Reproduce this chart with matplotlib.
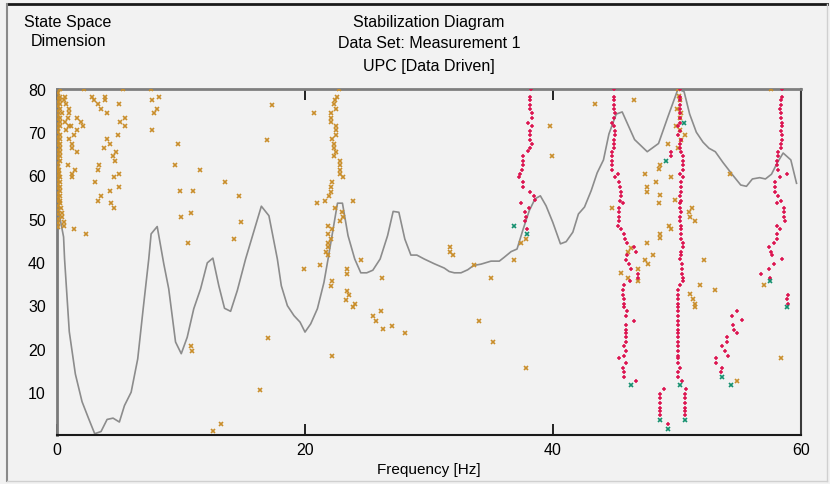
import matplotlib as mpl
mpl.use('Agg')
import matplotlib.pyplot as plt
from matplotlib.lines import Line2D

NARROW = ['Liberation Sans Narrow', 'Liberation Sans', 'DejaVu Sans']
REGULAR = ['Liberation Sans', 'DejaVu Sans']
mpl.rcParams['font.family'] = REGULAR

# spectrum curve (frequency [Hz], scaled level)
spec_freq = [0.05, 0.53, 0.61, 0.99, 1.48, 2.02, 2.55, 3.04, 3.55, 4.04, 4.52, 5.03,
             5.44, 5.98, 6.51, 6.95, 7.40, 7.59, 8.08, 8.61, 9.01, 9.56, 10.02, 10.50,
             11.03, 11.58, 12.12, 12.57, 13.05, 13.51, 14.0, 14.54, 15.21, 16.48, 17.09,
             17.77, 18.09, 18.58, 19.11, 19.60, 20.0, 20.46, 21.0, 21.53, 21.86, 22.62,
             23.02, 23.47, 24.01, 24.5, 24.98, 25.47, 26.06, 26.66, 27.11, 27.57, 28.05,
             28.54, 29.02, 29.61, 30.42, 31.23, 31.63, 32.04, 32.58, 33.12, 33.6, 34.19,
             35.0, 35.67, 36.07, 36.62, 37.1, 37.56, 38.09, 38.55, 38.98, 39.44, 39.98,
             40.6, 41.06, 41.6, 42.05, 42.54, 43.08, 43.56, 44.07, 44.51, 45.1, 45.58,
             46.58, 47.6, 48.51, 49.27, 50.08, 50.57, 51.02, 51.56, 52.1, 52.58, 53.09,
             53.71, 54.52, 55.14, 55.6, 56.08, 56.67, 57.13, 57.62, 58.1, 58.56, 59.18,
             59.64]
spec_level = [53.0, 45.8, 40.7, 23.9, 14.1, 7.7, 3.8, 0.3, 0.8, 3.6, 3.9, 3.0,
              6.8, 9.9, 17.6, 29.2, 40.7, 46.5, 48.2, 39.6, 33.8, 21.5, 18.8, 22.6,
              29.2, 33.8, 39.8, 40.9, 34.5, 29.3, 28.6, 33.4, 40.7, 52.9, 50.7,
              40.7, 34.5, 29.9, 27.6, 26.1, 23.8, 25.7, 29.2, 35.3, 40.7, 53.6,
              53.6, 46.1, 40.7, 37.5, 37.5, 38.1, 40.7, 46.1, 51.7, 51.5, 45.3,
              41.6, 41.6, 40.7, 39.6, 38.6, 37.8, 37.5, 37.5, 38.2, 39.2, 39.5,
              40.2, 40.2, 41.1, 42.4, 43.0, 47.3, 51.9, 54.6, 55.3, 53.0, 49.2,
              44.2, 44.7, 46.9, 51.1, 52.7, 56.5, 60.6, 63.6, 69.6, 74.2, 74.7,
              68.3, 65.5, 67.4, 73.6, 80.0, 79.4, 74.2, 70.0, 67.7, 66.3, 65.5,
              63.0, 60.0, 57.8, 57.5, 59.2, 59.5, 59.2, 60.3, 63.0, 65.2, 63.6,
              58.2]

# unstable poles (frequency, state space dimension)
unstable_left = [(0.1, o) for o in range(48, 80)] + [
    (0.27, 80), (0.27, 78.2), (0.67, 78.2), (0.27, 77.5), (0.59, 77.5), (0.21, 76.5),
    (0.75, 76.5), (0.27, 75.4), (0.99, 75.4), (0.4, 74.4), (0.99, 74.4), (0.21, 73.4),
    (0.89, 73.4), (0.21, 72.3), (0.67, 72.3), (0.21, 71.5), (0.94, 71.5), (1.13, 71.5),
    (0.75, 70.5), (0.21, 69.4), (0.21, 68.4), (0.99, 68.4), (0.21, 67.3), (1.21, 67.3),
    (0.21, 66.3), (1.21, 66.3), (0.21, 65.5), (1.61, 65.5), (0.21, 64.4), (0.21, 63.4),
    (0.89, 62.4), (0.13, 61.3), (1.48, 61.3), (0.13, 60.3), (1.21, 60.3), (0.21, 59.6),
    (1.21, 59.6), (0.21, 58.5), (0.21, 57.4), (0.27, 56.4), (0.27, 55.3), (0.27, 54.2),
    (0.27, 53.6), (0.32, 52.5), (0.4, 51.4), (0.4, 50.3), (0.54, 49.3), (0.54, 48.3),
    (1.34, 47.6), (2.34, 46.5)]
unstable_low = [
    (2.15, 80), (5.33, 80), (7.59, 80), (2.83, 78.2), (3.9, 78.2), (8.21, 78.2),
    (2.96, 77.5), (3.9, 77.5), (7.67, 77.5), (3.31, 76.5), (5.03, 76.5), (3.55, 75.4),
    (8.08, 75.4), (4.04, 74.4), (7.81, 74.4), (1.61, 73.4), (5.52, 73.4), (1.96, 72.3),
    (5.11, 72.3), (2.1, 71.5), (5.52, 71.5), (1.61, 70.5), (7.67, 70.5), (1.34, 69.4),
    (4.9, 69.4), (4.04, 68.4), (4.25, 67.3), (9.77, 67.3), (3.77, 66.3), (4.76, 65.5),
    (4.52, 64.4), (4.66, 63.4), (3.42, 62.4), (9.5, 62.4), (3.31, 61.3), (11.5, 61.3),
    (5.03, 60.3), (4.63, 59.6), (3.09, 58.5), (13.54, 58.5), (5.03, 57.4), (4.31, 56.4),
    (9.88, 56.4), (10.98, 56.4), (3.55, 55.3), (14.67, 55.3), (3.31, 54.2), (4.39, 53.6),
    (4.58, 52.5), (10.77, 51.4), (10.01, 50.3), (14.86, 49.3), (14.27, 45.3),
    (10.58, 44.4), (10.77, 20.5), (10.85, 19.4), (12.57, 1.0), (13.19, 2.5),
    (16.34, 10.5), (16.99, 22.5), (19.9, 38.4), (21.24, 39.4), (22.08, 34.5),
    (22.21, 35.6), (22.21, 18.3), (17.31, 76.4), (20.73, 74.4), (16.96, 68.3)]
unstable_22hz = [
    (22.75, 80), (22.56, 78.2), (22.43, 77.5), (22.35, 76.5), (22.46, 75.4), (22.08, 74.4),
    (22.08, 73.4), (22.08, 72.3), (22.46, 71.5), (22.46, 70.5), (22.46, 69.4), (22.21, 68.4),
    (22.35, 67.3), (22.35, 66.3), (22.46, 65.5), (22.35, 64.6), (22.81, 63.4), (22.81, 62.4),
    (22.81, 61.3), (22.81, 60.3), (23.05, 59.6), (22.21, 58.5), (22.08, 57.4), (22.08, 56.3),
    (21.95, 55.3), (21.6, 54.2), (21.0, 53.6), (23.91, 54.2), (22.43, 52.5), (23.02, 51.5),
    (23.05, 50.4), (22.81, 49.4), (21.86, 48.3), (22.21, 47.6), (21.86, 46.5), (22.08, 45.4),
    (21.86, 44.3), (21.86, 43.4), (21.73, 42.2), (21.86, 41.6), (24.5, 40.5), (23.42, 38.4),
    (23.42, 37.3), (26.2, 36.3), (23.42, 33.4), (23.56, 32.4), (23.29, 31.3), (24.02, 30.4),
    (23.91, 29.6), (25.5, 27.5), (26.12, 28.6), (25.74, 26.4), (26.33, 24.4), (26.98, 25.3),
    (28.06, 23.6)]
unstable_high = [
    (33.66, 39.4), (35.0, 36.3), (34.03, 26.4), (35.14, 21.6), (37.83, 15.5), (36.83, 40.5),
    (31.69, 43.4), (31.69, 42.4), (31.96, 41.6), (37.8, 45.4), (37.45, 44.4), (39.77, 71.5),
    (39.9, 64.5), (43.4, 76.5), (44.75, 52.5), (46.57, 77.5), (50.1, 80), (50.13, 78.4),
    (50.21, 77.5), (50.0, 75.4), (50.34, 74.4), (50.21, 73.3), (49.9, 71.5), (50.21, 70.5),
    (50.61, 69.4), (50.34, 68.3), (50.07, 66.3), (49.27, 67.3), (48.65, 62.4), (48.51, 61.4),
    (47.44, 60.3), (48.27, 58.6), (47.57, 57.4), (47.57, 56.3), (49.51, 59.6), (48.65, 55.4),
    (48.51, 53.6), (49.86, 54.3), (51.2, 52.5), (50.96, 51.5), (51.07, 50.4), (51.45, 49.4),
    (49.35, 48.4), (49.51, 47.7), (48.65, 46.5), (48.65, 45.5), (47.57, 44.4), (46.33, 43.3),
    (46.06, 42.3), (47.41, 40.5), (47.68, 39.5), (48.03, 41.6), (46.82, 38.4), (45.5, 37.4),
    (46.06, 36.4), (46.82, 35.6), (52.17, 40.5), (51.82, 34.6), (51.07, 32.5), (51.31, 31.4),
    (51.45, 30.4), (51.45, 29.6), (53.04, 33.5), (57.6, 80), (54.25, 60.4), (57.05, 34.6),
    (58.4, 17.7), (54.84, 12.4)]

# stable poles
stable_38hz = [
    (38.23, 80), (38.18, 78.2), (38.18, 77.5), (38.18, 76.4), (38.18, 75.4), (38.29, 74.4),
    (38.29, 73.3), (37.96, 72.2), (38.29, 71.5), (38.18, 70.4), (38.18, 69.4), (38.18, 68.3),
    (38.29, 67.3), (38.18, 66.3), (37.96, 65.6), (37.56, 64.5), (37.56, 63.4), (37.56, 62.4),
    (37.5, 61.3), (37.34, 60.3), (37.24, 59.6), (37.56, 58.5), (37.56, 57.4), (38.18, 56.3),
    (38.5, 55.3), (38.55, 54.3), (37.42, 53.6), (38.04, 52.5), (37.77, 51.5), (37.83, 50.4),
    (37.72, 49.4), (37.94, 47.6)]
stable_45hz = [
    (44.9, 80), (44.9, 78.2), (44.9, 77.5), (44.9, 76.4), (44.9, 75.4), (45.0, 74.4),
    (44.9, 73.3), (44.77, 72.2), (44.9, 71.5), (45.0, 70.4), (45.0, 69.4), (44.9, 68.3),
    (44.9, 67.3), (44.9, 66.3), (44.77, 65.5), (44.77, 64.5), (44.77, 63.4), (44.77, 62.4),
    (44.77, 61.3), (45.23, 60.3), (45.0, 59.6), (45.36, 58.5), (45.44, 57.4), (45.5, 56.3),
    (45.5, 55.3), (45.44, 54.2), (45.63, 53.6), (45.36, 52.5), (45.36, 51.5), (45.36, 50.4),
    (45.36, 49.4), (45.23, 48.3), (45.5, 47.6), (45.71, 46.5), (45.82, 45.4), (45.98, 44.4),
    (46.57, 43.4), (46.71, 42.2), (45.98, 41.6), (45.85, 40.5), (46.12, 39.5), (46.3, 38.4),
    (46.84, 37.3), (46.84, 36.3), (46.22, 35.6), (45.71, 34.6), (45.63, 33.5), (45.63, 32.4),
    (45.71, 31.4), (45.71, 30.4), (45.71, 29.6), (45.98, 28.6), (45.85, 27.5), (46.57, 26.4),
    (45.85, 25.4), (45.85, 24.3), (45.85, 23.6), (45.85, 22.6), (45.85, 21.5), (45.71, 20.5),
    (45.85, 19.4), (45.71, 18.3), (45.36, 17.7), (45.85, 16.6), (45.63, 15.5), (45.71, 14.5),
    (45.71, 13.4), (46.71, 12.4)]
stable_50hz = [
    (50.21, 80), (50.21, 78.2), (50.21, 77.5), (50.21, 76.4), (50.21, 75.4), (50.21, 74.4),
    (50.21, 73.3), (50.21, 72.2), (50.1, 71.5), (50.21, 70.4), (50.1, 69.4), (50.34, 68.3),
    (50.21, 67.3), (50.21, 66.3), (50.34, 65.5), (50.45, 64.5), (50.45, 63.4), (50.45, 62.4),
    (50.45, 61.3), (50.21, 60.3), (50.45, 59.6), (50.34, 58.5), (50.34, 57.4), (50.34, 56.3),
    (50.21, 55.3), (50.34, 54.2), (50.21, 53.6), (50.21, 52.5), (50.34, 51.5), (50.21, 50.4),
    (50.21, 49.4), (50.34, 48.3), (50.34, 47.6), (50.34, 46.5), (50.34, 45.4), (50.45, 44.4),
    (50.45, 43.4), (50.34, 42.2), (50.34, 41.6), (50.21, 40.6), (50.37, 39.5), (50.37, 38.4),
    (50.37, 37.3), (50.48, 36.3), (50.48, 35.6), (50.21, 34.6), (50.1, 33.5), (50.1, 32.4),
    (50.1, 31.4), (50.1, 30.4), (50.1, 29.6), (50.1, 28.6), (50.1, 27.5), (50.1, 26.4),
    (50.1, 25.4), (50.1, 24.3), (50.1, 23.6), (50.1, 22.6), (50.1, 21.5), (50.1, 20.5),
    (50.1, 19.4), (50.1, 18.3), (50.1, 17.7), (50.1, 16.6), (50.24, 15.5), (50.1, 14.5),
    (50.1, 13.4), (50.37, 12.4), (50.72, 10.6), (50.61, 9.5), (50.61, 8.5), (50.61, 7.4),
    (50.61, 6.3), (50.61, 5.6), (50.61, 4.6)]
stable_49hz = [
    (48.99, 10.6), (48.65, 9.5), (48.65, 8.5), (48.65, 7.4), (48.65, 6.3), (48.65, 5.6),
    (48.65, 4.6), (49.27, 2.5), (49.48, 65.5), (49.48, 64.5)]
stable_54hz = [
    (54.84, 28.6), (54.46, 27.5), (55.22, 26.5), (54.49, 25.4), (54.6, 24.3), (54.84, 23.6),
    (54.0, 22.6), (54.0, 21.5), (53.63, 20.5), (53.87, 19.4), (54.11, 18.3), (53.14, 17.7),
    (53.14, 16.6), (53.63, 15.5), (53.52, 14.5)]
stable_58hz = [
    (58.48, 80), (58.48, 78.2), (58.37, 77.5), (58.37, 76.4), (58.29, 75.4), (58.37, 74.4),
    (58.37, 73.3), (58.48, 72.2), (58.48, 71.5), (58.37, 70.4), (58.48, 69.4), (58.48, 68.3),
    (58.37, 67.3), (58.37, 66.3), (58.15, 65.5), (58.15, 64.5), (58.04, 63.4), (58.04, 62.4),
    (58.15, 61.3), (58.88, 60.3), (58.29, 59.6), (57.88, 58.5), (57.88, 57.4), (57.88, 56.3),
    (58.15, 55.3), (58.37, 54.2), (58.04, 53.6), (58.61, 52.5), (58.61, 51.5), (58.61, 50.4),
    (58.74, 49.4), (58.04, 48.3), (58.29, 47.6), (58.04, 46.5), (58.04, 45.4), (57.8, 44.4),
    (57.43, 43.4), (57.56, 42.2), (57.67, 41.6), (58.5, 40.6), (57.8, 39.5), (57.4, 38.4),
    (56.8, 37.3), (57.53, 36.3), (58.99, 32.4), (58.88, 31.4), (58.99, 30.4)]

# poles stable in frequency only
stable_freq = [
    (36.83, 48.3), (37.91, 46.5), (50.59, 72.2), (49.13, 63.4), (46.3, 11.6), (50.24, 11.6),
    (48.65, 3.5), (49.27, 1.5), (50.61, 3.5), (53.63, 13.4), (54.38, 11.6), (57.53, 35.6),
    (58.88, 29.6)]

unstable = unstable_left + unstable_low + unstable_22hz + unstable_high
stable = stable_38hz + stable_45hz + stable_50hz + stable_49hz + stable_54hz + stable_58hz

x_ticks = [0, 20, 40, 60]
y_ticks = [10, 20, 30, 40, 50, 60, 70, 80]

BG = '#F2F2F2'
fig = plt.figure(figsize=(8.3, 4.85), dpi=100, facecolor=BG)
ax = fig.add_axes([57 / 830, 49 / 485, 744 / 830, 346 / 485])
ax.set_facecolor(BG)

ax.plot(spec_freq, spec_level, color='#8C8C8C', lw=1.2, zorder=2)
ax.plot([p[0] for p in unstable], [p[1] for p in unstable], ls='none', marker='x',
        ms=3.2, mew=1.2, color='#C98E2B', zorder=3)
ax.plot([p[0] for p in stable], [p[1] for p in stable], ls='none', marker='+',
        ms=3.3, mew=1.1, color='#DC1450', zorder=4)
ax.plot([p[0] for p in stable_freq], [p[1] for p in stable_freq], ls='none', marker='x',
        ms=3.2, mew=1.2, color='#14906E', zorder=5)

ax.set_xlim(0, 60)
ax.set_ylim(0, 80)
ax.set_xticks(x_ticks)
ax.set_yticks(y_ticks)
ax.tick_params(axis='x', direction='in', length=8, width=1.2, top=True, pad=5,
               labelsize=11.5, color='black')
ax.tick_params(axis='y', length=0, pad=8, labelsize=11.5)
ax.set_xlabel('Frequency [Hz]', fontsize=11, labelpad=4)

ax.spines['left'].set_color('#7A7A7A')
ax.spines['left'].set_linewidth(2)
ax.spines['top'].set_color('#7F7F7F')
ax.spines['top'].set_linewidth(2)
ax.spines['bottom'].set_color('#1A1A1A')
ax.spines['bottom'].set_linewidth(1.5)
ax.spines['right'].set_color('#3A3A3A')
ax.spines['right'].set_linewidth(1.5)

fig.text(68 / 830, 1 - 22 / 485, 'State Space', ha='center', va='center',
         fontsize=11.5, family=NARROW)
fig.text(68 / 830, 1 - 42 / 485, 'Dimension', ha='center', va='center',
         fontsize=11.5, family=NARROW)
for i, line in enumerate(['Stabilization Diagram', 'Data Set: Measurement 1',
                          'UPC [Data Driven]']):
    fig.text(429 / 830, 1 - (22 + 22 * i) / 485, line, ha='center', va='center',
             fontsize=11.5, family=NARROW)

# window frame
fig.add_artist(Line2D([7 / 830, 827 / 830], [1 - 5 / 485, 1 - 5 / 485], color='#1A1A1A', lw=2))
fig.add_artist(Line2D([7 / 830, 7 / 830], [3 / 485, 1 - 5 / 485], color='#8A8A8A', lw=1.5))
fig.add_artist(Line2D([827 / 830, 827 / 830], [3 / 485, 1 - 5 / 485], color='#D0D0D0', lw=1))
fig.add_artist(Line2D([7 / 830, 827 / 830], [3 / 485, 3 / 485], color='#D0D0D0', lw=1))

fig.savefig('out.png', dpi=100, facecolor=BG)
